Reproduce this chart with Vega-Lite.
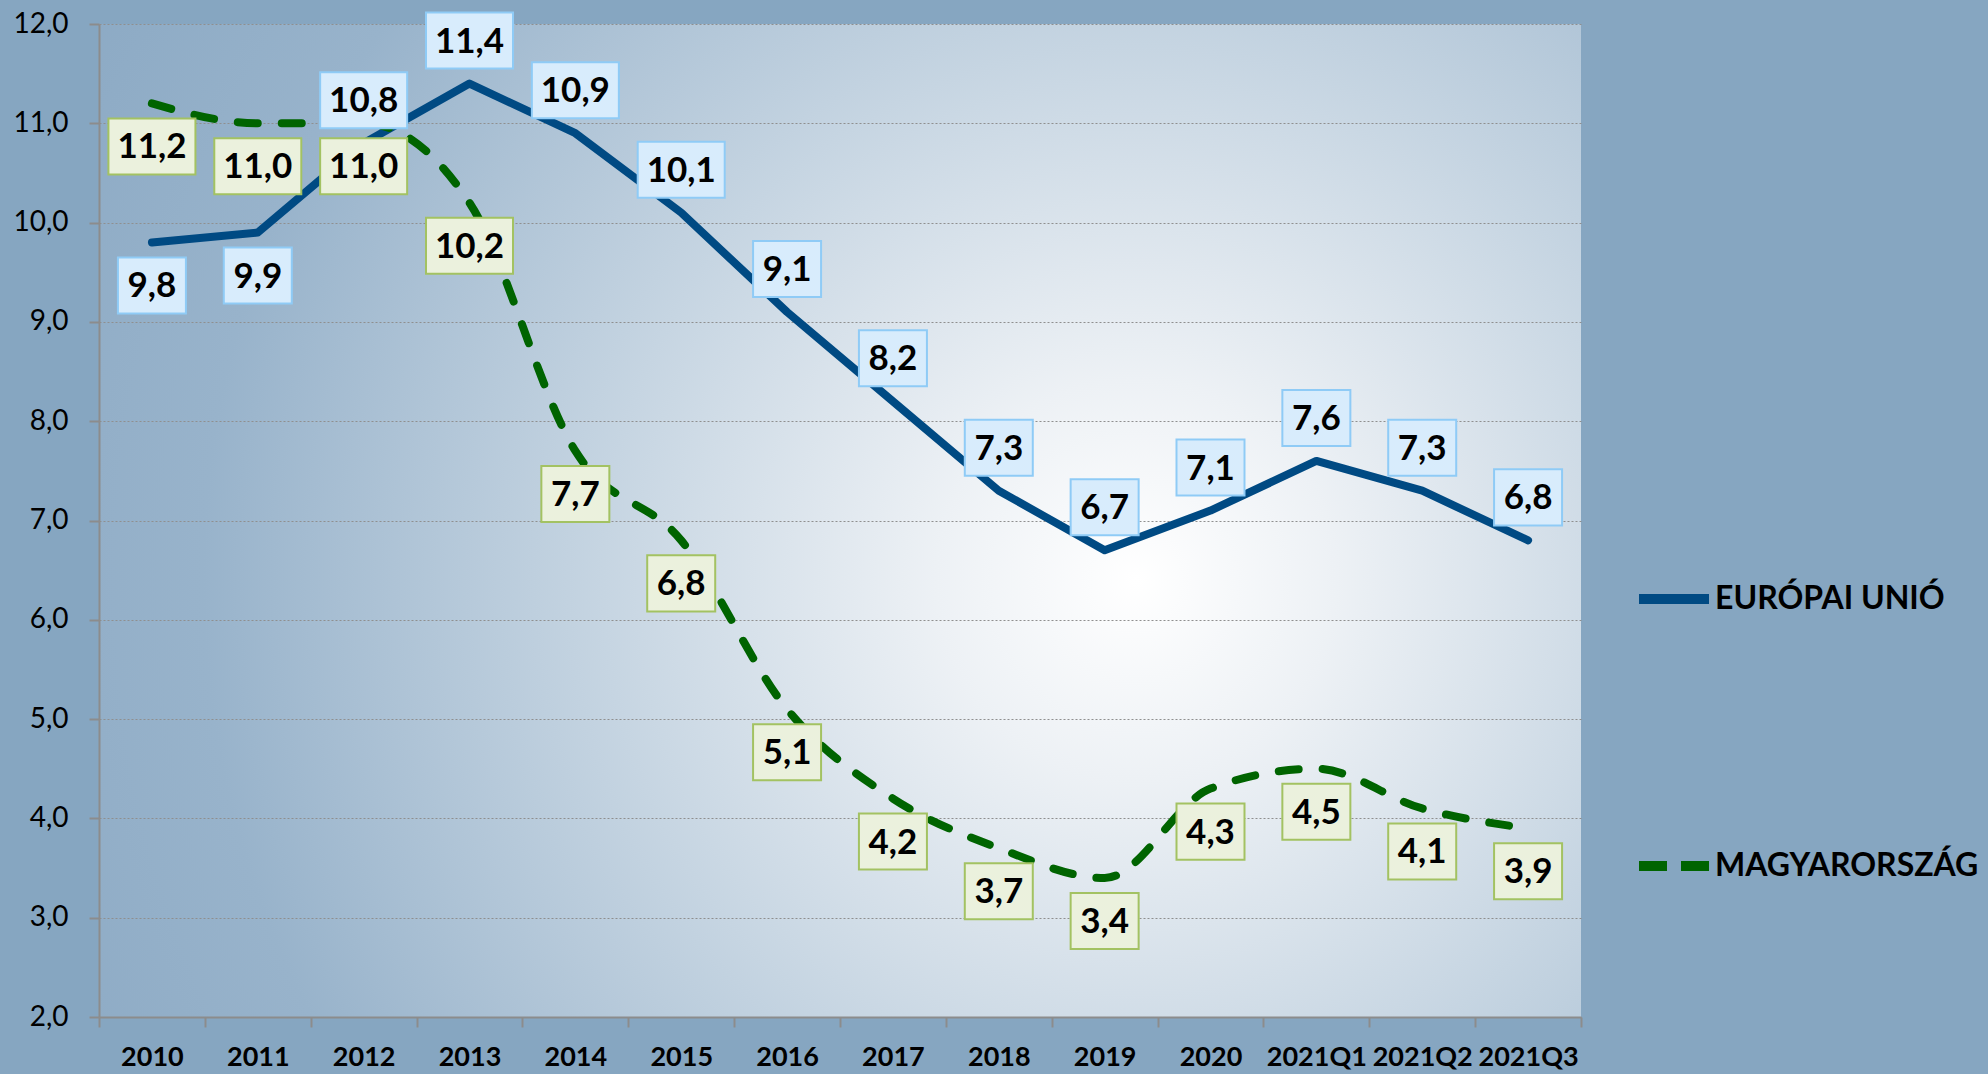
{
  "$schema": "https://vega.github.io/schema/vega-lite/v6.json",
  "width": 1482,
  "height": 993,
  "autosize": {"type": "none"},
  "padding": {"left": 99, "top": 24, "right": 407, "bottom": 57},
  "background": "#86a6c1",
  "config": {
    "locale": {"number": {"decimal": ",", "thousands": " ", "grouping": [3], "currency": ["", ""]}},
    "font": "Lato",
    "view": {
      "stroke": null,
      "fill": {
        "gradient": "radial",
        "x1": 0.7, "y1": 0.54, "r1": 0,
        "x2": 0.7, "y2": 0.54, "r2": 0.9,
        "stops": [
          {"offset": 0, "color": "#ffffff"},
          {"offset": 0.15, "color": "#edf1f5"},
          {"offset": 0.4, "color": "#c6d5e2"},
          {"offset": 0.7, "color": "#98b3cb"},
          {"offset": 1, "color": "#86a5c1"}
        ]
      }
    }
  },
  "data": {
    "values": [
      {"x": "2010", "s": "EURÓPAI UNIÓ", "v": 9.8},
      {"x": "2011", "s": "EURÓPAI UNIÓ", "v": 9.9},
      {"x": "2012", "s": "EURÓPAI UNIÓ", "v": 10.8},
      {"x": "2013", "s": "EURÓPAI UNIÓ", "v": 11.4},
      {"x": "2014", "s": "EURÓPAI UNIÓ", "v": 10.9},
      {"x": "2015", "s": "EURÓPAI UNIÓ", "v": 10.1},
      {"x": "2016", "s": "EURÓPAI UNIÓ", "v": 9.1},
      {"x": "2017", "s": "EURÓPAI UNIÓ", "v": 8.2},
      {"x": "2018", "s": "EURÓPAI UNIÓ", "v": 7.3},
      {"x": "2019", "s": "EURÓPAI UNIÓ", "v": 6.7},
      {"x": "2020", "s": "EURÓPAI UNIÓ", "v": 7.1},
      {"x": "2021Q1", "s": "EURÓPAI UNIÓ", "v": 7.6},
      {"x": "2021Q2", "s": "EURÓPAI UNIÓ", "v": 7.3},
      {"x": "2021Q3", "s": "EURÓPAI UNIÓ", "v": 6.8},
      {"x": "2010", "s": "MAGYARORSZÁG", "v": 11.2},
      {"x": "2011", "s": "MAGYARORSZÁG", "v": 11.0},
      {"x": "2012", "s": "MAGYARORSZÁG", "v": 11.0},
      {"x": "2013", "s": "MAGYARORSZÁG", "v": 10.2},
      {"x": "2014", "s": "MAGYARORSZÁG", "v": 7.7},
      {"x": "2015", "s": "MAGYARORSZÁG", "v": 6.8},
      {"x": "2016", "s": "MAGYARORSZÁG", "v": 5.1},
      {"x": "2017", "s": "MAGYARORSZÁG", "v": 4.2},
      {"x": "2018", "s": "MAGYARORSZÁG", "v": 3.7},
      {"x": "2019", "s": "MAGYARORSZÁG", "v": 3.4},
      {"x": "2020", "s": "MAGYARORSZÁG", "v": 4.3},
      {"x": "2021Q1", "s": "MAGYARORSZÁG", "v": 4.5},
      {"x": "2021Q2", "s": "MAGYARORSZÁG", "v": 4.1},
      {"x": "2021Q3", "s": "MAGYARORSZÁG", "v": 3.9}
    ]
  },
  "encoding": {
    "x": {
      "field": "x", "type": "nominal", "sort": null, "bandPosition": 0.5,
      "scale": {"type": "band", "paddingInner": 0, "paddingOuter": 0},
      "axis": {
        "title": null, "labelAngle": 0, "tickBand": "extent", "grid": false,
        "domainColor": "#8c8c8c", "domainWidth": 2, "tickColor": "#8c8c8c", "tickWidth": 2, "tickSize": 10,
        "labelFont": "Lato", "labelFontSize": 27, "labelFontWeight": "bold", "labelColor": "#000000",
        "labelPadding": 17
      }
    },
    "y": {
      "field": "v", "type": "quantitative",
      "scale": {"domain": [2, 12], "nice": false, "zero": false},
      "axis": {
        "title": null, "values": [2, 3, 4, 5, 6, 7, 8, 9, 10, 11, 12], "format": ".1f",
        "domainColor": "#8c8c8c", "domainWidth": 2, "tickColor": "#8c8c8c", "tickWidth": 2, "tickSize": 10,
        "grid": true, "gridColor": "#8f8f8f", "gridWidth": 1, "gridDash": [2, 2],
        "labelFont": "Lato", "labelFontSize": 28, "labelColor": "#000000", "labelPadding": 21
      }
    }
  },
  "layer": [
    {
      "transform": [{"filter": "datum.s == 'EURÓPAI UNIÓ'"}],
      "mark": {"type": "line", "strokeWidth": 8, "strokeJoin": "round", "strokeCap": "round", "color": "#004a83"},
      "encoding": {}
    },
    {
      "transform": [{"filter": "datum.s == 'MAGYARORSZÁG'"}],
      "mark": {"type": "line", "strokeWidth": 8, "strokeCap": "round", "interpolate": "monotone", "strokeDash": [20, 24], "color": "#006400"},
      "encoding": {}
    },
    {
      "mark": {"type": "line", "strokeWidth": 0, "opacity": 0},
      "encoding": {
        "color": {
          "field": "s", "type": "nominal",
          "scale": {"domain": ["EURÓPAI UNIÓ", "MAGYARORSZÁG"], "range": ["#004a83", "#006400"]},
          "legend": {
            "title": null, "orient": "none", "legendX": 1535, "legendY": 535,
            "symbolType": "stroke", "symbolSize": 4900, "symbolStrokeWidth": 10, "symbolOpacity": 1,
            "labelFont": "Lato", "labelFontSize": 32, "labelFontWeight": "bold", "labelColor": "#000000",
            "labelOffset": 1, "labelLimit": 500, "rowPadding": 207, "padding": 0
          }
        },
        "strokeDash": {
          "field": "s", "type": "nominal",
          "scale": {"domain": ["EURÓPAI UNIÓ", "MAGYARORSZÁG"], "range": [[1, 0], [28, 14]]}
        }
      }
    },
    {
      "transform": [{"filter": "datum.s == 'EURÓPAI UNIÓ' && datum.x != '2010' && datum.x != '2011'"}],
      "mark": {"type": "point", "filled": true, "yOffset": -43, "strokeWidth": 2, "opacity": 1, "fill": "#d8ecfc", "stroke": "#8fcbf6"},
      "encoding": {
        "shape": {"condition": {"test": "datum.v >= 10", "value": "M-1,-0.644L1,-0.644L1,0.644L-1,0.644Z"}, "value": "M-1,-0.824L1,-0.824L1,0.824L-1,0.824Z"},
        "size": {"condition": {"test": "datum.v >= 10", "value": 7569}, "value": 4624}
      }
    },
    {
      "transform": [{"filter": "datum.s == 'MAGYARORSZÁG' || datum.x == '2010' || datum.x == '2011'"}],
      "mark": {"type": "point", "filled": true, "yOffset": 43, "strokeWidth": 2, "opacity": 1},
      "encoding": {
        "fill": {"condition": {"test": "datum.s == 'MAGYARORSZÁG'", "value": "#ebf1dd"}, "value": "#d8ecfc"},
        "stroke": {"condition": {"test": "datum.s == 'MAGYARORSZÁG'", "value": "#a3c262"}, "value": "#8fcbf6"},
        "shape": {"condition": {"test": "datum.v >= 10", "value": "M-1,-0.644L1,-0.644L1,0.644L-1,0.644Z"}, "value": "M-1,-0.824L1,-0.824L1,0.824L-1,0.824Z"},
        "size": {"condition": {"test": "datum.v >= 10", "value": 7569}, "value": 4624}
      }
    },
    {
      "transform": [{"filter": "datum.s == 'EURÓPAI UNIÓ' && datum.x != '2010' && datum.x != '2011'"}],
      "mark": {"type": "text", "dy": -42, "font": "Lato", "fontSize": 35, "fontWeight": "bold", "color": "#000000", "baseline": "middle", "align": "center"},
      "encoding": {"text": {"field": "v", "type": "quantitative", "format": ".1f"}}
    },
    {
      "transform": [{"filter": "datum.s == 'MAGYARORSZÁG' || datum.x == '2010' || datum.x == '2011'"}],
      "mark": {"type": "text", "dy": 44, "font": "Lato", "fontSize": 35, "fontWeight": "bold", "color": "#000000", "baseline": "middle", "align": "center"},
      "encoding": {"text": {"field": "v", "type": "quantitative", "format": ".1f"}}
    }
  ]
}
